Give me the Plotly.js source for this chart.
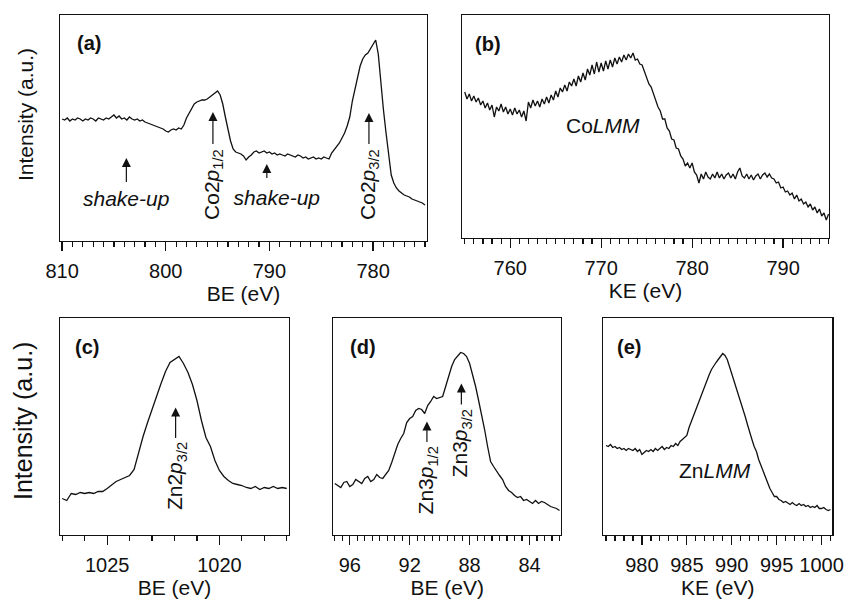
<!DOCTYPE html>
<html><head><meta charset="utf-8">
<script src="https://cdn.plot.ly/plotly-3.0.1.min.js"></script>
<style>html,body{margin:0;padding:0;background:#fff}</style>
</head><body><div id="chart" style="width:846px;height:599px"></div>
<script>
// ---------- DATA ----------
// (a) Co 2p XPS, binding energy grid 810 -> 775 eV, step 0.25 eV
const coA_start = 810, coA_step = -0.25;
const coA_intensity = [122,121,123,120, 122,121,123,122, 120,122,121,123, 122,120,123,122, 121,123,122,124,
  126,123,125,122, 123,121,124,122, 121,122,120,121, 119,118,117,116, 115,114,113,112,
  110,109,111,112, 111,113,112,116, 123,128,133,137, 139,140,141,141, 142,144,146,148,
  150,146,137,124, 110,100,92,89, 88,87,85,81, 84,86,89,90, 88,89,90,88,
  89,87,88,86, 87,86,85,87, 86,85,84,86, 85,83,84,82, 83,84,82,83,
  82,84,83,82, 88,91,94,98, 103,108,115,124, 140,151,163,175, 182,186,188,192,
  196,201,187,157, 131,108,85,66, 58,53,50,48, 46,45,44,42, 41,40,39,38, 36];
// (b) Co LMM Auger, kinetic energy grid 755 -> 795 eV, step 0.25 eV
const coB_start = 755, coB_step = 0.25;
const coB_intensity = [146,139,144,137, 142,136,140,133, 137,130,135,128, 133,121,131,127, 134,126,131,124,
  129,123,130,124, 128,121,127,117, 136,130,138,132, 137,131,139,134, 141,135,143,138,
  147,141,150,146, 153,147,156,152, 159,152,162,156, 165,158,169,163, 173,164,176,166,
  175,167,177,169, 178,171,180,174, 181,176,183,178, 184,180,185,178, 179,174,173,166,
  161,154,151,144, 139,131,127,119, 119,110,107,99, 98,90,89,82, 79,72,75,70,
  75,66,63,55, 64,59,66,61, 59,64,60,66, 60,64,59,63, 65,60,64,59,
  66,70,62,60, 64,59,63,58, 62,64,59,63, 65,61,64,60, 59,55,56,50,
  51,46,47,43, 45,39,43,37, 39,34,36,31, 34,28,31,25, 29,22,25,18, 24];
// (c) Zn 2p3/2 XPS, binding energy grid 1027 -> 1017 eV, step 0.2 eV
const znC_start = 1027, znC_step = -0.2;
const znC_intensity = [36,34,41,40,42,41,42,41,43,43,46,50,53,55,57,59,65,82,98,112,
  124,138,151,163,172,175,178,171,162,150,134,114,97,88,74,64,58,54,51,50,
  49,47,46,48,45,47,46,48,46,47,46];
// (d) Zn 3p XPS, binding energy grid 97 -> 82 eV, step 0.2 eV
const znD_start = 97, znD_step = -0.2;
const znD_intensity = [51,49,47,52,53,48,50,55,53,51, 56,58,53,55,60,57,56,60,64,72,
  82,90,96,101,112,116,118,124,126,125, 121,129,133,138,136,137,138,148,159,168,
  175,179,182,181,178,171,160,148,134,120, 105,88,73,68,63,59,55,48,44,42,
  39,37,38,34,35,33,31,34,31,33, 32,30,28,27,26,24];
// (e) Zn LMM Auger, kinetic energy grid 976 -> 1001 eV, step 0.25 eV
const znE_start = 976, znE_step = 0.25;
const znE_intensity = [89,88,90,87, 88,86,87,85, 86,84,86,85, 84,86,83,85, 80,82,84,83,
  85,83,86,84, 86,88,85,87, 86,89,88,91, 89,93,95,97, 99,107,113,120,
  124,130,136,142, 148,154,160,165, 169,172,175,178, 181,179,175,168, 161,154,148,141,
  134,126,118,110, 101,95,88,83, 75,69,63,56, 51,46,42,38, 38,35,34,32,
  33,31,30,32, 30,29,31,29, 30,28,29,27, 28,27,29,26, 26,27,25,24, 25];

const panelLabels = ['(a)','(b)','(c)','(d)','(e)'];
const xTitles = ['BE (eV)','KE (eV)','BE (eV)','BE (eV)','KE (eV)'];
const yTitle = 'Intensity (a.u.)';

// ---------- BUILD ----------
function energyGrid(start, step, n){ const a=[]; for(let i=0;i<n;i++) a.push(+(start+i*step).toFixed(3)); return a; }

const W=846, H=599;
const FONT='Liberation Sans, Arial, Helvetica, sans-serif';
const INK='#111';
// frames in pixels [left, right, top, bottom]
const frames = [[60,427,15,241],[462,829,15,238],[60,289,318,534.5],[333.3,561,318,534.5],[603.3,832.3,318,534.5]];
const xRanges = [[810.2,774.8],[754.7,795.05],[1027.1,1016.9],[97.1,81.9],[975.7,1001.2]];
const majorD = [10,10,5,4,5];
const minorD = [1,1,1,0.5,1];

const series = [
  [coA_start,coA_step,coA_intensity],
  [coB_start,coB_step,coB_intensity],
  [znC_start,znC_step,znC_intensity],
  [znD_start,znD_step,znD_intensity],
  [znE_start,znE_step,znE_intensity]
];

const traces = series.map((s,i)=>({
  type:'scatter', mode:'lines',
  x: energyGrid(s[0],s[1],s[2].length), y: s[2],
  xaxis: i===0?'x':'x'+(i+1), yaxis: i===0?'y':'y'+(i+1),
  line:{color:INK, width:1.3}, showlegend:false, hoverinfo:'x+y'
}));

const layout = {
  width:W, height:H, margin:{l:0,r:0,t:0,b:0},
  paper_bgcolor:'#fff', plot_bgcolor:'#fff',
  font:{family:FONT, color:INK, size:20},
  showlegend:false, annotations:[]
};

frames.forEach((f,i)=>{
  const k = i===0?'':String(i+1);
  const xd=[f[0]/W, f[1]/W], yd=[1-f[3]/H, 1-f[2]/H];
  layout['xaxis'+k] = {
    domain:xd, range:xRanges[i], anchor:'y'+k, showline:true, mirror:true,
    linecolor:INK, linewidth:1.2, showgrid:false, zeroline:false,
    ticks:'outside', ticklen:9, tickwidth:1.2, tickcolor:INK, dtick:majorD[i], tick0:0,
    ticklabelstandoff:3,
    tickfont:{size:20, family:FONT, color:INK},
    minor:{dtick:minorD[i], tick0:0, ticks:'outside', ticklen:5, tickwidth:1.2, tickcolor:INK, showgrid:false},
    title:{text:xTitles[i], font:{size:21, family:FONT, color:INK}, standoff:2}
  };
  layout['yaxis'+k] = {
    domain:yd, range:[0, f[3]-f[2]], anchor:'x'+k, showline:true, mirror:true,
    linecolor:INK, linewidth:1.2, showgrid:false, zeroline:false,
    ticks:'', showticklabels:false, fixedrange:true
  };
});

// y-axis titles (left of panels a and c)
layout.annotations.push({text:yTitle, xref:'paper', yref:'paper', x:25/W, y:1-115/H,
  xanchor:'center', yanchor:'middle', textangle:-90, showarrow:false, font:{size:21, family:FONT, color:INK}});
layout.annotations.push({text:yTitle, xref:'paper', yref:'paper', x:23/W, y:1-421/H,
  xanchor:'center', yanchor:'middle', textangle:-90, showarrow:false, font:{size:25, family:FONT, color:INK}});

// panel letters
const letterPos = [[0.080,0.876],[0.072,0.870],[0.117,0.864],[0.132,0.864],[0.113,0.864]];
panelLabels.forEach((t,i)=>{
  const k = i===0?'':String(i+1);
  layout.annotations.push({text:'<b>'+t+'</b>', xref:'x'+k+' domain', yref:'y'+k+' domain',
    x:letterPos[i][0], y:letterPos[i][1], xanchor:'center', yanchor:'middle', showarrow:false,
    font:{size:20, family:FONT, color:INK}});
});

function label(text, xr, yr, x, y){
  layout.annotations.push({text, xref:xr, yref:yr, x, y, xanchor:'center', yanchor:'middle',
    showarrow:false, font:{size:21, family:FONT, color:INK}});
}
// label with an upward arrow: text centred at (x, yText), arrow tip at (x, yTip)
function arrowLabel(text, xr, yr, x, yText, yTip, rot, extra){
  const a = {text, xref:xr, yref:yr, axref:xr, ayref:yr, x, y:yTip, ax:x, ay:yText,
    xanchor:'center', yanchor:'middle', textangle:rot||0,
    showarrow:true, arrowhead:2, arrowsize:1.5, arrowwidth:1.2, arrowcolor:INK, standoff:0, startstandoff:3,
    font:{size:21, family:FONT, color:INK}};
  Object.assign(a, extra||{});
  layout.annotations.push(a);
}
// (a)
arrowLabel('<i>shake-up</i>','x','y',803.8,43,83,0);
arrowLabel('Co2<i>p</i><sub>1/2</sub>','x','y',795.45,57,129,-90);
arrowLabel('<i>shake-up</i>','x','y',790.25,44,77,0,{width:106, align:'right', startstandoff:6});
arrowLabel('Co2<i>p</i><sub>3/2</sub>','x','y',780.4,57,128,-90);
// (b)
label('Co<i>LMM</i>','x2','y2',770.2,113);
// (c)
arrowLabel('Zn2<i>p</i><sub>3/2</sub>','x3','y3',1021.95,58,127,-90);
// (d)
arrowLabel('Zn3<i>p</i><sub>1/2</sub>','x4','y4',90.85,54,113,-90);
arrowLabel('Zn3<i>p</i><sub>3/2</sub>','x4','y4',88.55,91.5,151,-90);
// (e)
label('Zn<i>LMM</i>','x5','y5',988.1,64);

Plotly.newPlot('chart', traces, layout, {staticPlot:true, displayModeBar:false});
</script>
</body></html>
